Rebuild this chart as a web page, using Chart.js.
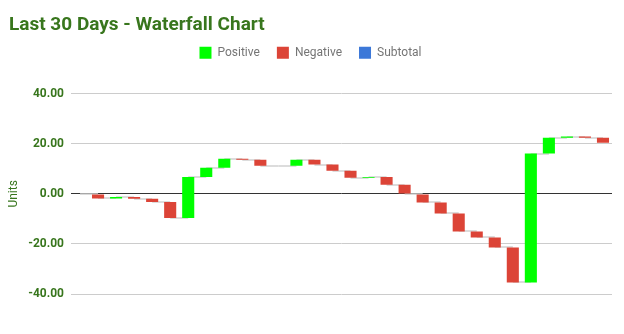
<!DOCTYPE html>
<html>
<head>
<meta charset="utf-8">
<script src="https://cdn.jsdelivr.net/npm/chart.js@4/dist/chart.umd.min.js"></script>
<style>
  html, body { margin: 0; padding: 0; background: #fff; }
  #wrap { width: 624px; height: 334px; position: relative; }
</style>
</head>
<body>
<div id="wrap"><canvas id="waterfall"></canvas></div>
<script>
// one entry per day, change in units versus the previous day
const days = ['1', '2', '3', '4', '5', '6', '7', '8', '9', '10',
              '11', '12', '13', '14', '15', '16', '17', '18', '19', '20',
              '21', '22', '23', '24', '25', '26', '27', '28', '29', '30'];
const changes = [0, -1.8, 0.6, -0.7, -1.3, -6.4, 16.4, 3.6, 3.6, -0.4,
                 -2.4, 0, 2.4, -1.9, -2.4, -2.8, 0.3, -3.1, -3.7, -3.4,
                 -4.4, -7.2, -2.4, -4.0, -14.0, 51.5, 6.3, 0.5, -0.5, -2.0];
const subtotals = [];
const yTicks = [-40, -20, 0, 20, 40];

const green = '#38761d';

// running total: start/end of each floating bar
const starts = [];
const ends = [];
let total = 0;
changes.forEach(c => {
  starts.push(total);
  total = Math.round((total + c) * 10) / 10;
  ends.push(total);
});

const posBars = changes.map((c, i) => c > 0 ? [starts[i], ends[i]] : null);
const negBars = changes.map((c, i) => c < 0 ? [starts[i], ends[i]] : null);

// grey step lines from one bar to the next, under the bars
const connectorLines = {
  id: 'connectorLines',
  beforeDatasetsDraw(chart) {
    const { ctx, scales: { x, y } } = chart;
    ctx.save();
    ctx.strokeStyle = '#d0d0d0';
    ctx.lineWidth = 1.5;
    for (let i = 0; i < ends.length - 1; i++) {
      const py = Math.round(y.getPixelForValue(ends[i]));
      ctx.beginPath();
      ctx.moveTo(x.getPixelForValue(i), py);
      ctx.lineTo(x.getPixelForValue(i + 1), py);
      ctx.stroke();
    }
    ctx.restore();
  }
};

// extra room under the legend
const legendGap = {
  id: 'legendGap',
  beforeInit(chart) {
    const fit = chart.legend.fit;
    chart.legend.fit = function () {
      fit.bind(chart.legend)();
      this.height += 25;
    };
  }
};

Chart.defaults.font.family = 'Roboto';

new Chart(document.getElementById('waterfall'), {
  type: 'bar',
  data: {
    labels: days,
    datasets: [
      { label: 'Positive', data: posBars, backgroundColor: '#00ff00' },
      { label: 'Negative', data: negBars, backgroundColor: '#dc4437' },
      { label: 'Subtotal', data: subtotals, backgroundColor: '#3c78d8' }
    ]
  },
  options: {
    responsive: true,
    maintainAspectRatio: false,
    animation: false,
    layout: { padding: { left: 9, right: 12, top: 0, bottom: 40 } },
    datasets: {
      bar: {
        grouped: false,
        borderWidth: 0,
        borderSkipped: false,
        categoryPercentage: 1,
        barPercentage: 0.67
      }
    },
    plugins: {
      title: {
        display: true,
        text: 'Last 30 Days - Waterfall Chart',
        align: 'start',
        color: green,
        font: { size: 19, weight: 'bold' },
        padding: { top: 14, bottom: -7 }
      },
      legend: {
        labels: {
          boxWidth: 12,
          boxHeight: 12,
          color: '#757575',
          font: { size: 12 },
          padding: 17
        }
      },
      tooltip: { enabled: false }
    },
    scales: {
      x: { display: false },
      y: {
        min: -40,
        max: 40,
        afterBuildTicks(scale) {
          scale.ticks = yTicks.map(v => ({ value: v }));
        },
        afterFit(scale) { scale.width = 62; },
        border: { display: false },
        grid: {
          drawTicks: false,
          color: ctx => ctx.tick && ctx.tick.value === 0 ? '#333333' : '#cccccc'
        },
        ticks: {
          padding: 7,
          color: green,
          font: { size: 12, weight: 'bold' },
          callback: v => v.toFixed(2)
        },
        title: {
          display: true,
          text: 'Units',
          color: green,
          font: { size: 12 },
          padding: { top: -2, bottom: 0 }
        }
      }
    }
  },
  plugins: [connectorLines, legendGap]
});
</script>
</body>
</html>
